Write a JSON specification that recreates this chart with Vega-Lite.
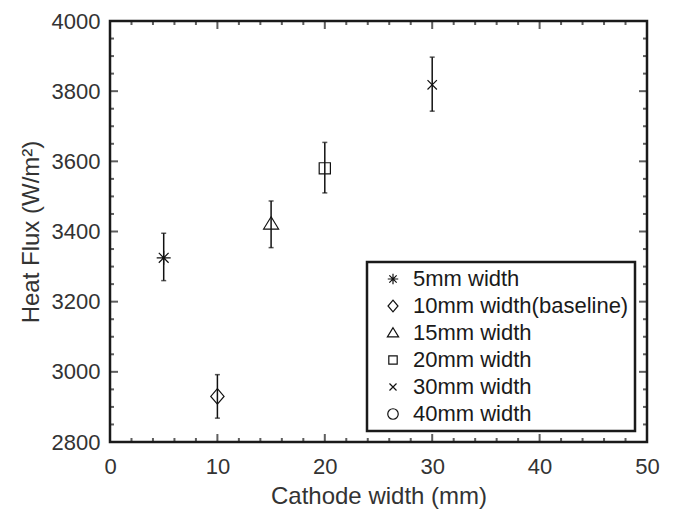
{
  "$schema": "https://vega.github.io/schema/vega-lite/v6.json",
  "autosize": "none",
  "width": 537,
  "height": 421,
  "padding": {"left": 110, "top": 21, "right": 32, "bottom": 69},
  "background": "white",
  "config": {
    "font": "Liberation Sans",
    "view": {"stroke": "#1a1a1a", "strokeWidth": 2.5},
    "axis": {
      "domain": false,
      "ticks": false,
      "grid": false,
      "labelColor": "#333333",
      "titleColor": "#333333",
      "labelFont": "Liberation Sans",
      "titleFont": "Liberation Sans",
      "labelFontSize": 22,
      "titleFontSize": 24,
      "titleFontWeight": "normal",
      "labelFlush": false,
      "labelOverlap": false
    },
    "legend": {"strokeWidth": 2.5}
  },
  "datasets": {
    "points": [
      {"cathode": 5, "flux": 3325, "low": 3260, "high": 3395, "series": "5mm width"},
      {"cathode": 10, "flux": 2930, "low": 2868, "high": 2992, "series": "10mm width(baseline)"},
      {"cathode": 15, "flux": 3422, "low": 3354, "high": 3487, "series": "15mm width"},
      {"cathode": 20, "flux": 3580, "low": 3510, "high": 3654, "series": "20mm width"},
      {"cathode": 30, "flux": 3818, "low": 3743, "high": 3897, "series": "30mm width"}
    ],
    "xticks": [
      {"v": 0, "kind": "major"}, {"v": 2, "kind": "minor"}, {"v": 4, "kind": "minor"}, {"v": 6, "kind": "minor"}, {"v": 8, "kind": "minor"},
      {"v": 10, "kind": "major"}, {"v": 12, "kind": "minor"}, {"v": 14, "kind": "minor"}, {"v": 16, "kind": "minor"}, {"v": 18, "kind": "minor"},
      {"v": 20, "kind": "major"}, {"v": 22, "kind": "minor"}, {"v": 24, "kind": "minor"}, {"v": 26, "kind": "minor"}, {"v": 28, "kind": "minor"},
      {"v": 30, "kind": "major"}, {"v": 32, "kind": "minor"}, {"v": 34, "kind": "minor"}, {"v": 36, "kind": "minor"}, {"v": 38, "kind": "minor"},
      {"v": 40, "kind": "major"}, {"v": 42, "kind": "minor"}, {"v": 44, "kind": "minor"}, {"v": 46, "kind": "minor"}, {"v": 48, "kind": "minor"},
      {"v": 50, "kind": "major"}
    ],
    "yticks": [
      {"v": 2800, "kind": "major"}, {"v": 2850, "kind": "minor"}, {"v": 2900, "kind": "minor"}, {"v": 2950, "kind": "minor"},
      {"v": 3000, "kind": "major"}, {"v": 3050, "kind": "minor"}, {"v": 3100, "kind": "minor"}, {"v": 3150, "kind": "minor"},
      {"v": 3200, "kind": "major"}, {"v": 3250, "kind": "minor"}, {"v": 3300, "kind": "minor"}, {"v": 3350, "kind": "minor"},
      {"v": 3400, "kind": "major"}, {"v": 3450, "kind": "minor"}, {"v": 3500, "kind": "minor"}, {"v": 3550, "kind": "minor"},
      {"v": 3600, "kind": "major"}, {"v": 3650, "kind": "minor"}, {"v": 3700, "kind": "minor"}, {"v": 3750, "kind": "minor"},
      {"v": 3800, "kind": "major"}, {"v": 3850, "kind": "minor"}, {"v": 3900, "kind": "minor"}, {"v": 3950, "kind": "minor"},
      {"v": 4000, "kind": "major"}
    ]
  },
  "data": {"name": "points"},
  "resolve": {"axis": {"x": "independent", "y": "independent"}},
  "layer": [
    {
      "mark": {"type": "rule", "color": "#111111", "strokeWidth": 1.5},
      "encoding": {
        "x": {
          "field": "cathode", "type": "quantitative",
          "scale": {"domain": [0, 50], "nice": false, "zero": false},
          "axis": {
            "orient": "bottom",
            "title": "Cathode width (mm)",
            "values": [0, 10, 20, 30, 40, 50],
            "labelPadding": 14,
            "titlePadding": 7
          }
        },
        "y": {
          "field": "low", "type": "quantitative",
          "scale": {"domain": [2800, 4000], "nice": false, "zero": false},
          "axis": {
            "orient": "left",
            "title": "Heat Flux (W/m²)",
            "values": [2800, 3000, 3200, 3400, 3600, 3800, 4000],
            "format": "d",
            "labelPadding": 10,
            "titlePadding": 8
          }
        },
        "y2": {"field": "high"}
      }
    },
    {
      "mark": {"type": "tick", "orient": "horizontal", "size": 5, "thickness": 1.5, "color": "#111111"},
      "encoding": {
        "x": {"field": "cathode", "type": "quantitative", "axis": null},
        "y": {"field": "low", "type": "quantitative", "axis": null}
      }
    },
    {
      "mark": {"type": "tick", "orient": "horizontal", "size": 5, "thickness": 1.5, "color": "#111111"},
      "encoding": {
        "x": {"field": "cathode", "type": "quantitative", "axis": null},
        "y": {"field": "high", "type": "quantitative", "axis": null}
      }
    },
    {
      "data": {"name": "xticks"},
      "mark": {"type": "tick", "orient": "vertical", "thickness": 2, "color": "#1a1a1a", "clip": true},
      "encoding": {
        "x": {"field": "v", "type": "quantitative", "axis": null},
        "y": {"datum": 2800, "type": "quantitative", "axis": null},
        "size": {"field": "kind", "type": "nominal", "scale": {"domain": ["major", "minor"], "range": [16, 8]}, "legend": null}
      }
    },
    {
      "data": {"name": "xticks"},
      "mark": {"type": "tick", "orient": "vertical", "thickness": 2, "color": "#1a1a1a", "clip": true},
      "encoding": {
        "x": {"field": "v", "type": "quantitative", "axis": null},
        "y": {"datum": 4000, "type": "quantitative", "axis": null},
        "size": {"field": "kind", "type": "nominal", "scale": {"domain": ["major", "minor"], "range": [16, 8]}, "legend": null}
      }
    },
    {
      "data": {"name": "yticks"},
      "mark": {"type": "tick", "orient": "horizontal", "thickness": 2, "color": "#1a1a1a", "clip": true},
      "encoding": {
        "y": {"field": "v", "type": "quantitative", "axis": null},
        "x": {"datum": 0, "type": "quantitative", "axis": null},
        "size": {"field": "kind", "type": "nominal", "scale": {"domain": ["major", "minor"], "range": [16, 8]}, "legend": null}
      }
    },
    {
      "data": {"name": "yticks"},
      "mark": {"type": "tick", "orient": "horizontal", "thickness": 2, "color": "#1a1a1a", "clip": true},
      "encoding": {
        "y": {"field": "v", "type": "quantitative", "axis": null},
        "x": {"datum": 50, "type": "quantitative", "axis": null},
        "size": {"field": "kind", "type": "nominal", "scale": {"domain": ["major", "minor"], "range": [16, 8]}, "legend": null}
      }
    },
    {
      "mark": {"type": "point", "filled": false, "color": "#111111", "size": 196, "strokeWidth": 1.2, "opacity": 1},
      "encoding": {
        "x": {"field": "cathode", "type": "quantitative", "axis": null},
        "y": {"field": "flux", "type": "quantitative", "axis": null},
        "shape": {
          "field": "series", "type": "nominal",
          "scale": {
            "domain": ["5mm width", "10mm width(baseline)", "15mm width", "20mm width", "30mm width", "40mm width"],
            "range": [
              "M0,-1L0,1M-1,0L1,0M-0.7,-0.7L0.7,0.7M-0.7,0.7L0.7,-0.7",
              "M0,-1.1L0.95,0L0,1.1L-0.95,0Z",
              "M0,-1L1.07,0.75L-1.07,0.75Z",
              "M-0.8,-0.8L0.8,-0.8L0.8,0.8L-0.8,0.8Z",
              "M-0.67,-0.67L0.67,0.67M-0.67,0.67L0.67,-0.67",
              "circle"
            ]
          },
          "legend": {
            "orient": "none",
            "legendX": 257,
            "legendY": 241,
            "title": null,
            "strokeColor": "#1a1a1a",
            "fillColor": "white",
            "padding": 6,
            "labelFontSize": 22,
            "labelFont": "Liberation Sans",
            "labelColor": "#1a1a1a",
            "labelLimit": 400,
            "symbolSize": 110,
            "symbolStrokeColor": "#111111",
            "symbolStrokeWidth": 1.2,
            "symbolFillColor": "transparent",
            "rowPadding": 5,
            "symbolOffset": 9,
            "labelOffset": 9
          }
        }
      }
    }
  ]
}
